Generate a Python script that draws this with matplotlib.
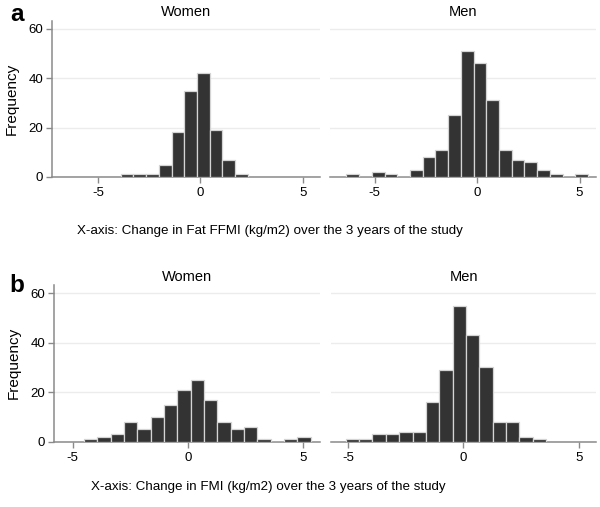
import numpy as np
import matplotlib.pyplot as plt

# histogram counts
# panel a: change in fat FFMI
a_width = 0.62
a_women_start = -3.89
a_women = [1, 1, 1, 5, 18, 35, 42, 19, 7, 1]
a_men_start = -6.37
a_men = [1, 0, 2, 1, 0, 3, 8, 11, 25, 51, 46, 31, 11, 7, 6, 3, 1, 0, 1]

# panel b: change in FMI
b_width = 0.578
b_women_start = -4.51
b_women = [1, 2, 3, 8, 5, 10, 15, 21, 25, 17, 8, 5, 6, 1, 0, 1, 2]
b_men_start = -5.09
b_men = [1, 1, 3, 3, 4, 4, 16, 29, 55, 43, 30, 8, 8, 2, 1]

xticks = [-5, 0, 5]
yticks = [0, 20, 40, 60]

plt.rcParams['font.family'] = ['Liberation Sans', 'DejaVu Sans']

bar_col = '#333333'
edge_col = '#d4d4d4'
axis_col = '#8a8a8a'
grid_col = '#ececec'


def drawHist(ax, start, width, counts, xlim, title, left):
    counts = np.array(counts)
    lefts = start + width * np.arange(len(counts))
    ax.bar(lefts, counts, width=width, align='edge', color=bar_col,
           edgecolor=edge_col, linewidth=0.9, zorder=3)
    ax.set_xlim(xlim)
    ax.set_ylim(0, 63.3)
    ax.set_xticks(xticks)
    ax.set_xticklabels([str(t) for t in xticks], fontsize=9.5)
    ax.set_yticks(yticks)
    ax.yaxis.grid(True, color=grid_col, linewidth=1, zorder=0)
    ax.set_axisbelow(True)
    ax.set_title(title, fontsize=10.5, pad=3)
    for s in ['top', 'right']:
        ax.spines[s].set_visible(False)
    ax.spines['bottom'].set_color(axis_col)
    ax.spines['bottom'].set_linewidth(1.1)
    ax.tick_params(axis='x', colors=axis_col, length=4, width=1, labelcolor='black', pad=3.5)
    if left:
        ax.spines['left'].set_color(axis_col)
        ax.spines['left'].set_linewidth(1.1)
        ax.set_yticklabels([str(t) for t in yticks], fontsize=9.5)
        ax.tick_params(axis='y', colors=axis_col, length=4, width=1, labelcolor='black', pad=2.5)
        ax.set_ylabel('Frequency', fontsize=11)
        ax.yaxis.set_label_coords(-0.125, 0.5)
    else:
        ax.spines['left'].set_visible(False)
        ax.tick_params(axis='y', length=0, labelleft=False)


fig = plt.figure(figsize=(6.0, 5.07), dpi=100)

ax1 = fig.add_axes([0.0867, 0.651, 0.4467, 0.3083])
ax2 = fig.add_axes([0.55, 0.651, 0.4433, 0.3083])
ax3 = fig.add_axes([0.09, 0.1288, 0.443, 0.309])
ax4 = fig.add_axes([0.5517, 0.1288, 0.4417, 0.309])

drawHist(ax1, a_women_start, a_width, a_women, (-7.25, 5.85), 'Women', True)
drawHist(ax2, a_men_start, a_width, a_men, (-7.17, 5.8), 'Men', False)
drawHist(ax3, b_women_start, b_width, b_women, (-5.81, 5.71), 'Women', True)
drawHist(ax4, b_men_start, b_width, b_men, (-5.73, 5.75), 'Men', False)

fig.text(0.45, 1 - 230.7 / 507, 'X-axis: Change in Fat FFMI (kg/m2) over the 3 years of the study',
         ha='center', va='center', fontsize=9.6)
fig.text(0.448, 1 - 486.7 / 507, 'X-axis: Change in FMI (kg/m2) over the 3 years of the study',
         ha='center', va='center', fontsize=9.6)

fig.text(17 / 600, 1 - 21 / 507, 'a', fontsize=17.5, fontweight='bold', ha='center', va='baseline')
fig.text(17 / 600, 1 - 292 / 507, 'b', fontsize=17.5, fontweight='bold', ha='center', va='baseline')

fig.savefig('out.png', dpi=100)
